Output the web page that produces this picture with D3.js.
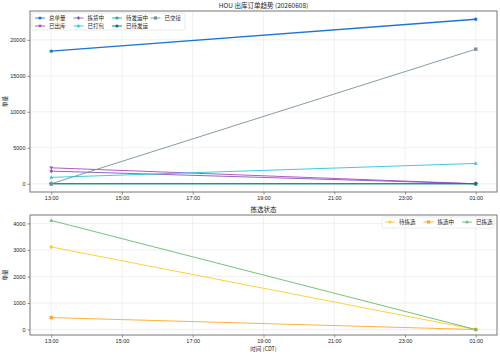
<!DOCTYPE html>
<html>
<head>
<meta charset="utf-8">
<script src="https://cdn.jsdelivr.net/npm/d3@7"></script>
<style>
  body { margin: 0; background: #fff; }
  svg { font-family: "Noto Sans CJK SC", "Noto Sans", sans-serif; }
  .axis text { font-size: 5.5px; fill: #222; }
  .axis .domain { display: none; }
  .axis line { stroke: #444; stroke-width: 0.6; }
  .grid line { stroke: #e6e6e6; stroke-width: 0.6; }
</style>
</head>
<body>
<svg id="chart" width="500" height="355"></svg>
<script>
// ---- data ----
const times = ["2026-06-08T13:00", "2026-06-09T01:00"];

const orderNames = ["总单量", "已出库", "拣货中", "已打包", "待发运中", "已待发运", "已交接"];
const orderColors = ["#1976d2", "#ab47bc", "#7e57c2", "#26c6da", "#26a69a", "#00796b", "#78909c"];
const orderSymbols = ["circle", "triDown", "diamond", "triangle", "pentagon", "hexagon", "square"];
const orderValues = [
  [18430, 22870],
  [2220, 0],
  [1760, 0],
  [890, 2830],
  [0, 0],
  [0, 0],
  [0, 18710]
];
const orderTicks = [0, 5000, 10000, 15000, 20000];

const pickNames = ["待拣选", "拣选中", "已拣选"];
const pickColors = ["#ffca28", "#ffa726", "#66bb6a"];
const pickSymbols = ["circle", "square", "triangle"];
const pickValues = [
  [3110, 0],
  [450, 0],
  [4110, 0]
];
const pickTicks = [0, 1000, 2000, 3000, 4000];

// ---- layout ----
const svg = d3.select("#chart");
const left = 30, right = 497;
const top1 = 11, bot1 = 192;
const top2 = 215, bot2 = 335;

const parse = d3.timeParse("%Y-%m-%dT%H:%M");
const dates = times.map(parse);
const span = dates[1] - dates[0];
const xScale = d3.scaleTime()
  .domain([new Date(+dates[0] - span * 0.05), new Date(+dates[1] + span * 0.05)])
  .range([left, right]);
// one tick every 2 hours starting at the first sample
const xTicks = d3.range(+dates[0], +dates[1] + 1, 2 * 3600 * 1000).map(t => new Date(t));

function symbolPath(kind, size) {
  const s = size;
  if (kind === "circle") return d3.symbol(d3.symbolCircle, s * s * 3.14)();
  if (kind === "square") return `M${-s},${-s}H${s}V${s}H${-s}Z`;
  if (kind === "diamond") return `M0,${-s * 1.3}L${s},0L0,${s * 1.3}L${-s},0Z`;
  if (kind === "triangle") return `M0,${-s * 1.2}L${s * 1.1},${s * 0.8}L${-s * 1.1},${s * 0.8}Z`;
  if (kind === "triDown") return `M0,${s * 1.2}L${s * 1.1},${-s * 0.8}L${-s * 1.1},${-s * 0.8}Z`;
  if (kind === "pentagon") return d3.symbol(d3.symbolStar, s * s * 3)();
  return d3.symbol(d3.symbolCircle, s * s * 3.14)();
}

function panel(top, bottom, names, colors, symbols, values, ticks, title, legendCfg) {
  const maxV = d3.max(values.flat()), minV = d3.min(values.flat());
  const pad = (maxV - minV) * 0.05;
  const yScale = d3.scaleLinear().domain([minV - pad, maxV + pad]).range([bottom, top]);

  // grid
  const g = svg.append("g").attr("class", "grid");
  g.selectAll(".gx").data(xTicks).enter().append("line")
    .attr("x1", d => xScale(d)).attr("x2", d => xScale(d))
    .attr("y1", top).attr("y2", bottom);
  g.selectAll(".gy").data(ticks).enter().append("line")
    .attr("x1", left).attr("x2", right)
    .attr("y1", d => yScale(d)).attr("y2", d => yScale(d));

  // axes
  svg.append("g").attr("class", "axis")
    .attr("transform", `translate(0,${bottom})`)
    .call(d3.axisBottom(xScale).tickValues(xTicks).tickFormat(d3.timeFormat("%H:%M")).tickSize(2.5).tickPadding(2));
  svg.append("g").attr("class", "axis")
    .attr("transform", `translate(${left},0)`)
    .call(d3.axisLeft(yScale).tickValues(ticks).tickFormat(d3.format("d")).tickSize(2.5).tickPadding(2));

  // lines + markers
  names.forEach((name, i) => {
    const pts = dates.map((d, j) => ({ t: d, v: values[i][j] }));
    svg.append("path")
      .datum(pts)
      .attr("fill", "none")
      .attr("stroke", colors[i])
      .attr("stroke-width", i === 0 && names === orderNames ? 1.4 : 0.9)
      .attr("d", d3.line().x(d => xScale(d.t)).y(d => yScale(d.v)));
    svg.selectAll(null).data(pts).enter().append("path")
      .attr("d", symbolPath(symbols[i], 1.7))
      .attr("transform", d => `translate(${xScale(d.t)},${yScale(d.v)})`)
      .attr("fill", colors[i]);
  });

  // frame
  svg.append("rect")
    .attr("x", left).attr("y", top)
    .attr("width", right - left).attr("height", bottom - top)
    .attr("fill", "none").attr("stroke", "#777").attr("stroke-width", 1);

  // title
  svg.append("text")
    .attr("x", (left + right) / 2).attr("y", top - 3)
    .attr("text-anchor", "middle")
    .style("font-size", "6.5px").style("fill", "#222")
    .text(title);

  // y label
  svg.append("text")
    .attr("transform", `translate(7,${(top + bottom) / 2}) rotate(-90)`)
    .attr("text-anchor", "middle")
    .style("font-size", "5.5px").style("fill", "#222")
    .text("单量");

  // legend
  const lg = svg.append("g");
  lg.append("rect")
    .attr("x", legendCfg.x).attr("y", legendCfg.y)
    .attr("width", legendCfg.w).attr("height", legendCfg.h)
    .attr("rx", 1.5).attr("fill", "#fff").attr("fill-opacity", 0.85)
    .attr("stroke", "#ddd").attr("stroke-width", 0.6);
  names.forEach((name, i) => {
    const col = Math.floor(i / legendCfg.rows), row = i % legendCfg.rows;
    const lx = legendCfg.x + 3 + col * legendCfg.colW;
    const ly = legendCfg.y + 5 + row * 8;
    lg.append("line")
      .attr("x1", lx).attr("x2", lx + 10).attr("y1", ly).attr("y2", ly)
      .attr("stroke", colors[i]).attr("stroke-width", 0.9);
    lg.append("path")
      .attr("d", symbolPath(symbols[i], 1.6))
      .attr("transform", `translate(${lx + 5},${ly})`)
      .attr("fill", colors[i]);
    lg.append("text")
      .attr("x", lx + 14).attr("y", ly + 2)
      .style("font-size", "5.5px").style("fill", "#222")
      .text(name);
  });
}

panel(top1, bot1, orderNames, orderColors, orderSymbols, orderValues, orderTicks,
  "HOU 出库订单趋势 (20260608)", { x: 32, y: 13, w: 153, h: 17, rows: 2, colW: 38.5 });
panel(top2, bot2, pickNames, pickColors, pickSymbols, pickValues, pickTicks,
  "拣选状态", { x: 382, y: 217, w: 112, h: 11, rows: 1, colW: 38.5 });

// x label
svg.append("text")
  .attr("x", (left + right) / 2).attr("y", 351)
  .attr("text-anchor", "middle")
  .style("font-size", "5.5px").style("fill", "#222")
  .text("时间 (CDT)");
</script>
</body>
</html>
